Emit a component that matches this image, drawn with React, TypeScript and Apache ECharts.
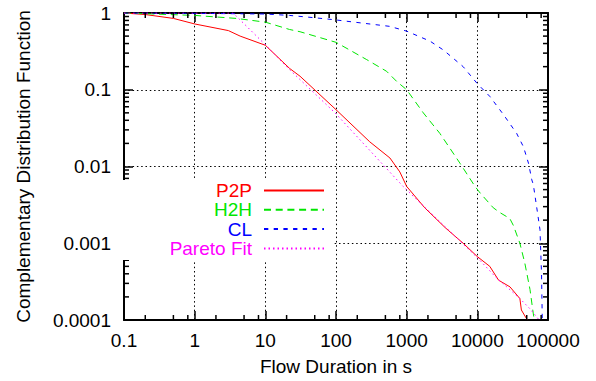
import React, { useEffect, useRef } from 'react';
import * as echarts from 'echarts';

// ---- data (x = flow duration in s, y = CCDF) ----
const p2p: [number, number][] = [
  [0.1, 1], [0.2, 0.955], [0.5, 0.85], [1, 0.72], [3, 0.59], [4.4, 0.5], [10, 0.38],
  [22, 0.19], [31, 0.15], [100, 0.055], [300, 0.021], [580, 0.0129], [800, 0.0085],
  [1000, 0.0055], [1800, 0.0029], [3500, 0.0016], [6300, 0.001], [10000, 0.00067],
  [15000, 0.0005], [20000, 0.00033], [29000, 0.00027], [40000, 0.00019],
  [42000, 0.000135], [51000, 0.0001],
];
const h2h: [number, number][] = [
  [0.1, 1], [1, 0.93], [3.9, 0.85], [10, 0.76], [22, 0.61], [31, 0.57], [100, 0.415],
  [272, 0.247], [520, 0.174], [725, 0.128], [1000, 0.1], [1720, 0.05], [2950, 0.027],
  [5690, 0.011], [9270, 0.0055], [11000, 0.0045], [16800, 0.0029], [21000, 0.0025],
  [28800, 0.0021], [32400, 0.0017], [40000, 0.001], [47000, 0.00055], [55600, 0.00025],
  [62000, 0.00012], [64000, 0.0001],
];
const cl: [number, number][] = [
  [0.1, 1], [1, 0.99], [10, 0.97], [22, 0.93], [48, 0.87], [91, 0.82], [575, 0.67],
  [1000, 0.58], [2140, 0.43], [3300, 0.33], [6300, 0.2], [10000, 0.12], [15000, 0.082],
  [23600, 0.047], [36000, 0.027], [45000, 0.018], [53000, 0.011], [59000, 0.0067],
  [62000, 0.0058], [69000, 0.003], [77000, 0.0015], [81000, 0.0004], [83000, 0.0001],
];
const paretoFit: [number, number][] = [
  [0.1, 1], [3.5, 1], [9.35, 0.41], [22, 0.183], [97, 0.05], [890, 0.0055],
  [10000, 0.00065], [17800, 0.00037], [40000, 0.00019], [55600, 0.00014], [75000, 0.0001],
];

const seriesNames = ['P2P', 'H2H', 'CL', 'Pareto Fit'];
const seriesColors = ['#ff0000', '#00e600', '#0000ff', '#ff00ff'];

const xTickLabels = ['0.1', '1', '10', '100', '1000', '10000', '100000'];
const yTickLabels = ['0.0001', '0.001', '0.01', '0.1', '1'];
const xMin = 0.1, xMax = 100000, yMin = 0.0001, yMax = 1;

const xDecades = [0.1, 1, 10, 100, 1000, 10000];
const xMinorMult = [2, 5, 8];
const yDecades = [0.0001, 0.001, 0.01, 0.1];
const yMinorMult = [2, 3, 4, 5, 6, 7, 8, 9];
const xMinorTicks = xDecades.flatMap((d) => xMinorMult.map((m) => +(m * d).toPrecision(3)));
const yMinorTicks = yDecades.flatMap((d) => yMinorMult.map((m) => +(m * d).toPrecision(3)));

const FONT = "'Liberation Sans', Arial, Helvetica, sans-serif";
const FS = 19;

export default function App() {
  const ref = useRef<HTMLDivElement>(null);
  useEffect(() => {
    const chart = echarts.init(ref.current!, null, { renderer: 'svg' });

    const axisCommon = {
      type: 'log' as const,
      logBase: 10,
      axisLine: { show: true, onZero: false, lineStyle: { color: '#000', width: 2 } },
      axisTick: { show: true, inside: true, length: 9, lineStyle: { color: '#000', width: 1.5 } },
      minorTick: { show: false },
    };
    const gridLine = { show: true, lineStyle: { color: '#000', width: 1, type: [1.5, 2.8] } };

    const minorLen = 5;
    const tickStyle = { stroke: '#000', lineWidth: 1.5 };

    const lineSeries = [p2p, h2h, cl, paretoFit].map((d, i) => ({
      name: seriesNames[i],
      type: 'line',
      data: d,
      xAxisIndex: 0,
      yAxisIndex: 0,
      symbol: 'none',
      showSymbol: false,
      smooth: false,
      z: 5,
      lineStyle: {
        color: seriesColors[i],
        width: 1,
        type: i === 0 ? 'solid' : i === 1 ? [7, 4.7] : i === 2 ? [4.3, 5.4] : [1.5, 3],
      },
      itemStyle: { color: seriesColors[i] },
    }));

    chart.setOption({
      animation: false,
      backgroundColor: '#fff',
      textStyle: { fontFamily: FONT },
      grid: { left: 124, right: 48, top: 13, bottom: 61, containLabel: false, outerBoundsMode: 'none' },
      legend: {
        orient: 'vertical',
        align: 'right',
        right: 263,
        top: 180,
        padding: [1, 8, 2, 48],
        backgroundColor: '#fff',
        itemWidth: 60,
        itemHeight: 14,
        itemGap: 0.3,
        z: 20,
        itemStyle: { opacity: 0, borderWidth: 0 },
        textStyle: { fontSize: FS, fontFamily: FONT, padding: [0, 7, 0, 0] },
        data: seriesNames.map((n, i) => ({ name: n, textStyle: { color: seriesColors[i] } })),
      },
      xAxis: [
        {
          ...axisCommon,
          position: 'bottom',
          min: xMin,
          max: xMax,
          name: 'Flow Duration in s',
          nameLocation: 'middle',
          nameGap: 37,
          nameTextStyle: { fontSize: FS, color: '#000', fontFamily: FONT },
          axisLabel: {
            fontSize: FS,
            color: '#000',
            fontFamily: FONT,
            margin: 11,
            showMinLabel: true,
            showMaxLabel: true,
            formatter: (v: number) => xTickLabels[Math.round(Math.log10(v)) + 1] ?? '',
          },
          splitLine: gridLine,
        },
        {
          ...axisCommon,
          position: 'top',
          min: xMin,
          max: xMax,
          axisLabel: { show: false },
          splitLine: { show: false },
        },
      ],
      yAxis: [
        {
          ...axisCommon,
          position: 'left',
          min: yMin,
          max: yMax,
          name: 'Complementary Distribution Function',
          nameLocation: 'middle',
          nameGap: 91,
          nameTextStyle: { fontSize: FS, color: '#000', fontFamily: FONT },
          axisLabel: {
            fontSize: FS,
            color: '#000',
            fontFamily: FONT,
            margin: 13,
            showMinLabel: true,
            showMaxLabel: true,
            formatter: (v: number) => yTickLabels[Math.round(Math.log10(v)) + 4] ?? '',
          },
          splitLine: gridLine,
        },
        {
          ...axisCommon,
          position: 'right',
          min: yMin,
          max: yMax,
          axisLabel: { show: false },
          splitLine: { show: false },
        },
      ],
      series: [
        ...lineSeries,
        {
          name: 'xMinorTicks',
          type: 'custom',
          xAxisIndex: 0,
          yAxisIndex: 0,
          silent: true,
          z: 6,
          data: xMinorTicks.map((v) => [v, 1]),
          renderItem: (params: any, api: any) => {
            const p = api.coord([api.value(0), 1]);
            const cs = params.coordSys;
            const bottom = cs.y + cs.height;
            return {
              type: 'group',
              children: [
                { type: 'line', shape: { x1: p[0], y1: bottom, x2: p[0], y2: bottom - minorLen }, style: tickStyle },
                { type: 'line', shape: { x1: p[0], y1: cs.y, x2: p[0], y2: cs.y + minorLen }, style: tickStyle },
              ],
            };
          },
        },
        {
          name: 'yMinorTicks',
          type: 'custom',
          xAxisIndex: 0,
          yAxisIndex: 0,
          silent: true,
          z: 6,
          data: yMinorTicks.map((v) => [1, v]),
          renderItem: (params: any, api: any) => {
            const p = api.coord([1, api.value(1)]);
            const cs = params.coordSys;
            const right = cs.x + cs.width;
            return {
              type: 'group',
              children: [
                { type: 'line', shape: { x1: cs.x, y1: p[1], x2: cs.x + minorLen, y2: p[1] }, style: tickStyle },
                { type: 'line', shape: { x1: right, y1: p[1], x2: right - minorLen, y2: p[1] }, style: tickStyle },
              ],
            };
          },
        },
      ],
    });
    return () => chart.dispose();
  }, []);
  return (
    <div
      ref={ref}
      style={{ position: 'absolute', left: 0, top: 0, width: 596, height: 381, background: '#fff' }}
    />
  );
}
